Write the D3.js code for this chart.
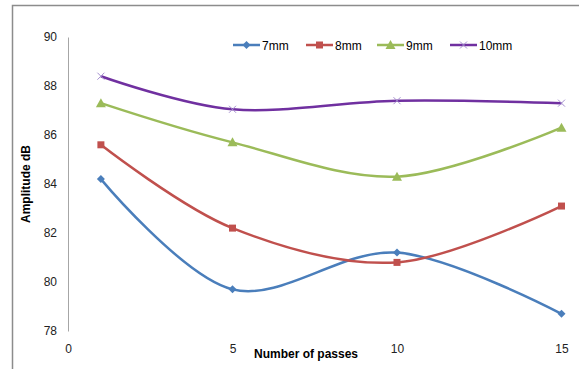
<!DOCTYPE html>
<html>
<head>
<meta charset="utf-8">
<script src="https://cdn.jsdelivr.net/npm/d3@7"></script>
<style>
  html, body { margin: 0; padding: 0; background: #fff; }
  svg { display: block; font-family: "Liberation Sans", Arial, sans-serif; }
</style>
</head>
<body>
<svg id="chart" width="579" height="369"></svg>
<script>
// Number of passes on the x axis
const passes = [1, 5, 10, 15];
// Amplitude (dB) for each electrode gap
const amp7mm  = [84.2, 79.7, 81.2, 78.7];
const amp8mm  = [85.6, 82.2, 80.8, 83.1];
const amp9mm  = [87.3, 85.7, 84.3, 86.3];
const amp10mm = [88.4, 87.05, 87.4, 87.3];
const seriesNames = ["7mm", "8mm", "9mm", "10mm"];
const seriesColors = ["#4a7ebb", "#c0504d", "#9bbb59", "#7030a0"];
const seriesMarkers = ["diamond", "square", "triangle", "cross"];
const yTicks = [78, 80, 82, 84, 86, 88, 90];
const xTicks = [0, 5, 10, 15];

const allSeries = [amp7mm, amp8mm, amp9mm, amp10mm].map((vals, i) => ({
  name: seriesNames[i], color: seriesColors[i], marker: seriesMarkers[i],
  points: passes.map((p, j) => ({ x: p, y: vals[j] }))
}));

const svg = d3.select("#chart");

// Outer frame (runs off the right and bottom)
svg.append("rect")
  .attr("x", 12.5).attr("y", 5.5).attr("width", 600).attr("height", 400)
  .attr("fill", "none").attr("stroke", "#8c8c8c").attr("stroke-width", 1.5);

const x = d3.scaleLinear().domain([0, 15]).range([68, 561.5]);
const y = d3.scaleLinear().domain([78, 90]).range([331, 37]);

// Y axis: plain line with right-aligned labels, no tick marks
const yAxis = d3.axisLeft(y).tickValues(yTicks).tickSize(0).tickPadding(11).tickFormat(d3.format("d"));
const gy = svg.append("g").attr("transform", `translate(${x(0)},0)`).call(yAxis);
gy.select(".domain").attr("stroke", "#a6a6a6").attr("stroke-width", 1);
gy.selectAll("text").attr("font-size", 12).attr("fill", "#222")
  .attr("font-family", "Liberation Sans, Arial, sans-serif");

// X axis: labels only
const xAxis = d3.axisBottom(x).tickValues(xTicks).tickSize(0).tickPadding(0).tickFormat(d3.format("d"));
const gx = svg.append("g").attr("transform", `translate(0,${y(78) + 13})`).call(xAxis);
gx.select(".domain").remove();
gx.selectAll("text").attr("font-size", 12).attr("fill", "#222")
  .attr("font-family", "Liberation Sans, Arial, sans-serif");

// Axis titles
svg.append("text")
  .attr("x", 254).attr("y", 358)
  .attr("font-size", 12).attr("font-weight", "bold").attr("fill", "#000")
  .text("Number  of passes");
svg.append("text")
  .attr("transform", "translate(30,184) rotate(-90)")
  .attr("text-anchor", "middle")
  .attr("font-size", 12).attr("font-weight", "bold").attr("fill", "#000")
  .text("Amplitude dB");

// Smoothed series lines
const line = d3.line()
  .x(d => x(d.x)).y(d => y(d.y))
  .curve(d3.curveCardinal.tension(0));

function drawMarker(g, type, color, cx, cy) {
  if (type === "diamond") {
    g.append("path").attr("d", `M${cx},${cy - 4}L${cx + 4},${cy}L${cx},${cy + 4}L${cx - 4},${cy}Z`)
      .attr("fill", color);
  } else if (type === "square") {
    g.append("rect").attr("x", cx - 3.5).attr("y", cy - 3.5).attr("width", 7).attr("height", 7)
      .attr("fill", color);
  } else if (type === "triangle") {
    g.append("path").attr("d", `M${cx},${cy - 5}L${cx + 5},${cy + 4}L${cx - 5},${cy + 4}Z`)
      .attr("fill", color);
  } else {
    g.append("path").attr("d", `M${cx - 3.5},${cy - 3.5}L${cx + 3.5},${cy + 3.5}M${cx - 3.5},${cy + 3.5}L${cx + 3.5},${cy - 3.5}`)
      .attr("stroke", "#a58fcf").attr("stroke-width", 1).attr("fill", "none");
  }
}

allSeries.forEach(s => {
  const g = svg.append("g");
  g.append("path").datum(s.points)
    .attr("d", line)
    .attr("fill", "none").attr("stroke", s.color).attr("stroke-width", 2.5);
  s.points.forEach(p => drawMarker(g, s.marker, s.color, x(p.x), y(p.y)));
});

// Legend
const legendX = [233, 306, 377, 450];
allSeries.forEach((s, i) => {
  const g = svg.append("g");
  const lx = legendX[i], ly = 45;
  g.append("line").attr("x1", lx).attr("x2", lx + 27).attr("y1", ly).attr("y2", ly)
    .attr("stroke", s.color).attr("stroke-width", 2.5);
  drawMarker(g, s.marker, s.color, lx + 13.5, ly);
  g.append("text").attr("x", lx + 29).attr("y", ly + 4.5)
    .attr("font-size", 12).attr("fill", "#000").text(s.name);
});
</script>
</body>
</html>
